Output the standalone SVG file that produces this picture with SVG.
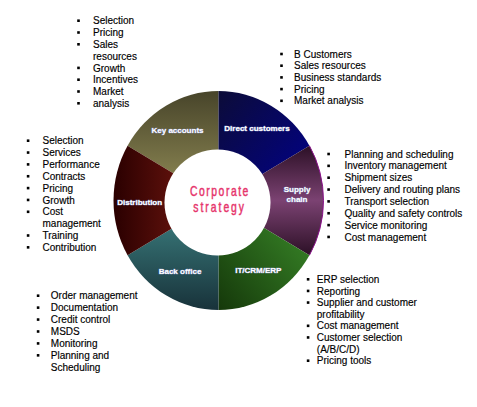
<svg xmlns="http://www.w3.org/2000/svg" width="477" height="407" viewBox="0 0 477 407">
<style>
.t{font-family:"Liberation Sans",Arial,sans-serif;font-size:10px;fill:#000;stroke:#000;stroke-width:0.15}
.lb{font-family:"Liberation Sans",Arial,sans-serif;font-size:8px;font-weight:bold;fill:#fff;stroke:#8e98cc;stroke-width:0.7;paint-order:stroke;text-anchor:middle}
.ct{font-family:"Liberation Sans",Arial,sans-serif;font-size:14px;fill:#e6356c;stroke:#e6356c;stroke-width:0.45;text-anchor:middle}
.b{fill:#000;stroke:none}
</style>
<defs>
<linearGradient id="gKey" x1="0" y1="0" x2="0" y2="1"><stop offset="0" stop-color="#47442a"/><stop offset="1" stop-color="#958f58"/></linearGradient>
<linearGradient id="gDir" x1="0" y1="0" x2="1" y2="1"><stop offset="0" stop-color="#0c0c38"/><stop offset="1" stop-color="#00008e"/></linearGradient>
<linearGradient id="gSup" x1="0" y1="0" x2="0" y2="1"><stop offset="0" stop-color="#2c1026"/><stop offset="0.5" stop-color="#7b4272"/><stop offset="1" stop-color="#2c1026"/></linearGradient>
<linearGradient id="gIT" x1="1" y1="0" x2="0" y2="1"><stop offset="0" stop-color="#3c8e2b"/><stop offset="1" stop-color="#15380a"/></linearGradient>
<linearGradient id="gBack" x1="0" y1="0" x2="0" y2="1"><stop offset="0" stop-color="#3f8686"/><stop offset="1" stop-color="#18323a"/></linearGradient>
<linearGradient id="gDist" x1="0" y1="0" x2="1" y2="0"><stop offset="0" stop-color="#2a0000"/><stop offset="1" stop-color="#821c14"/></linearGradient>
</defs>
<rect width="477" height="407" fill="#fff"/>
<g id="connectors"/>
<g id="key-accounts">
<path d="M218.5,200.5 L127.57,145.75 A105,109.5 0 0,1 218.5,91 Z" fill="url(#gKey)"/>
<text class="lb" x="177.5" y="132.9">Key accounts</text>
<g class="t">
<rect class="b" x="77.2" y="19.4" width="2.6" height="2.6"/><text x="93" y="24.3">Selection</text>
<rect class="b" x="77.2" y="31.2" width="2.6" height="2.6"/><text x="93" y="36.1">Pricing</text>
<rect class="b" x="77.2" y="43" width="2.6" height="2.6"/><text x="93" y="47.9">Sales</text>
<text x="93" y="59.7">resources</text>
<rect class="b" x="77.2" y="66.6" width="2.6" height="2.6"/><text x="93" y="71.5">Growth</text>
<rect class="b" x="77.2" y="78.4" width="2.6" height="2.6"/><text x="93" y="83.3">Incentives</text>
<rect class="b" x="77.2" y="90.2" width="2.6" height="2.6"/><text x="93" y="95.1">Market</text>
<rect class="b" x="77.2" y="102" width="2.6" height="2.6"/><text x="93" y="106.9">analysis</text>
</g>
</g>
<g id="direct-customers">
<path d="M218.5,200.5 L218.5,91 A105,109.5 0 0,1 309.43,145.75 Z" fill="url(#gDir)"/>
<text class="lb" x="257" y="130.6">Direct customers</text>
<g class="t">
<rect class="b" x="280.2" y="52.7" width="2.6" height="2.6"/><text x="294" y="57.6">B Customers</text>
<rect class="b" x="280.2" y="64.4" width="2.6" height="2.6"/><text x="294" y="69.3">Sales resources</text>
<rect class="b" x="280.2" y="76.1" width="2.6" height="2.6"/><text x="294" y="81">Business standards</text>
<rect class="b" x="280.2" y="87.8" width="2.6" height="2.6"/><text x="294" y="92.7">Pricing</text>
<rect class="b" x="280.2" y="99.5" width="2.6" height="2.6"/><text x="294" y="104.4">Market analysis</text>
</g>
</g>
<g id="supply-chain">
<path d="M218.5,200.5 L309.43,145.75 A105,109.5 0 0,1 309.43,255.25 Z" fill="url(#gSup)"/>
<path d="M309.43,145.75 A105,109.5 0 0,1 309.43,255.25" fill="none" stroke="#8a108a" stroke-width="1"/>
<text class="lb" x="297" y="192.2">Supply</text>
<text class="lb" x="297" y="202.2">chain</text>
<g class="t">
<rect class="b" x="327.3" y="152.7" width="2.6" height="2.6"/><text x="344.5" y="157.6">Planning and scheduling</text>
<rect class="b" x="327.3" y="164.55" width="2.6" height="2.6"/><text x="344.5" y="169.45">Inventory management</text>
<rect class="b" x="327.3" y="176.4" width="2.6" height="2.6"/><text x="344.5" y="181.3">Shipment sizes</text>
<rect class="b" x="327.3" y="188.25" width="2.6" height="2.6"/><text x="344.5" y="193.15">Delivery and routing plans</text>
<rect class="b" x="327.3" y="200.1" width="2.6" height="2.6"/><text x="344.5" y="205">Transport selection</text>
<rect class="b" x="327.3" y="211.95" width="2.6" height="2.6"/><text x="344.5" y="216.85">Quality and safety controls</text>
<rect class="b" x="327.3" y="223.8" width="2.6" height="2.6"/><text x="344.5" y="228.7">Service monitoring</text>
<rect class="b" x="327.3" y="235.65" width="2.6" height="2.6"/><text x="344.5" y="240.55">Cost management</text>
</g>
</g>
<g id="it-crm-erp">
<path d="M218.5,200.5 L309.43,255.25 A105,109.5 0 0,1 218.5,310 Z" fill="url(#gIT)"/>
<text class="lb" x="258.3" y="272.9">IT/CRM/ERP</text>
<g class="t">
<rect class="b" x="306.8" y="278" width="2.6" height="2.6"/><text x="316.8" y="282.9">ERP selection</text>
<rect class="b" x="306.8" y="289.63" width="2.6" height="2.6"/><text x="316.8" y="294.53">Reporting</text>
<rect class="b" x="306.8" y="301.26" width="2.6" height="2.6"/><text x="316.8" y="306.16">Supplier and customer</text>
<text x="316.8" y="317.79">profitability</text>
<rect class="b" x="306.8" y="324.52" width="2.6" height="2.6"/><text x="316.8" y="329.42">Cost management</text>
<rect class="b" x="306.8" y="336.15" width="2.6" height="2.6"/><text x="316.8" y="341.05">Customer selection</text>
<text x="316.8" y="352.68">(A/B/C/D)</text>
<rect class="b" x="306.8" y="359.41" width="2.6" height="2.6"/><text x="316.8" y="364.31">Pricing tools</text>
</g>
</g>
<g id="back-office">
<path d="M218.5,200.5 L218.5,310 A105,109.5 0 0,1 127.57,255.25 Z" fill="url(#gBack)"/>
<text class="lb" x="180" y="273.6">Back office</text>
<g class="t">
<rect class="b" x="36.8" y="294.4" width="2.6" height="2.6"/><text x="50.8" y="299.3">Order management</text>
<rect class="b" x="36.8" y="306.33" width="2.6" height="2.6"/><text x="50.8" y="311.23">Documentation</text>
<rect class="b" x="36.8" y="318.26" width="2.6" height="2.6"/><text x="50.8" y="323.16">Credit control</text>
<rect class="b" x="36.8" y="330.19" width="2.6" height="2.6"/><text x="50.8" y="335.09">MSDS</text>
<rect class="b" x="36.8" y="342.12" width="2.6" height="2.6"/><text x="50.8" y="347.02">Monitoring</text>
<rect class="b" x="36.8" y="354.05" width="2.6" height="2.6"/><text x="50.8" y="358.95">Planning and</text>
<text x="50.8" y="370.88">Scheduling</text>
</g>
</g>
<g id="distribution">
<path d="M218.5,200.5 L127.57,255.25 A105,109.5 0 0,1 127.57,145.75 Z" fill="url(#gDist)"/>
<text class="lb" x="139.7" y="205.2">Distribution</text>
<g class="t">
<rect class="b" x="26.8" y="139.4" width="2.6" height="2.6"/><text x="42.5" y="144.3">Selection</text>
<rect class="b" x="26.8" y="151.25" width="2.6" height="2.6"/><text x="42.5" y="156.15">Services</text>
<rect class="b" x="26.8" y="163.1" width="2.6" height="2.6"/><text x="42.5" y="168">Performance</text>
<rect class="b" x="26.8" y="174.95" width="2.6" height="2.6"/><text x="42.5" y="179.85">Contracts</text>
<rect class="b" x="26.8" y="186.8" width="2.6" height="2.6"/><text x="42.5" y="191.7">Pricing</text>
<rect class="b" x="26.8" y="198.65" width="2.6" height="2.6"/><text x="42.5" y="203.55">Growth</text>
<rect class="b" x="26.8" y="210.5" width="2.6" height="2.6"/><text x="42.5" y="215.4">Cost</text>
<text x="42.5" y="227.25">management</text>
<rect class="b" x="26.8" y="234.2" width="2.6" height="2.6"/><text x="42.5" y="239.1">Training</text>
<rect class="b" x="26.8" y="246.05" width="2.6" height="2.6"/><text x="42.5" y="250.95">Contribution</text>
</g>
</g>
<g id="corporate-strategy">
<circle cx="217.5" cy="202.5" r="53" fill="#fff"/>
<text class="ct" transform="translate(219.2,196) scale(0.74,1)" textLength="78.8" lengthAdjust="spacing">Corporate</text>
<text class="ct" transform="translate(218.7,211.7) scale(0.74,1)" textLength="68.5" lengthAdjust="spacing">strategy</text>
</g>
</svg>
